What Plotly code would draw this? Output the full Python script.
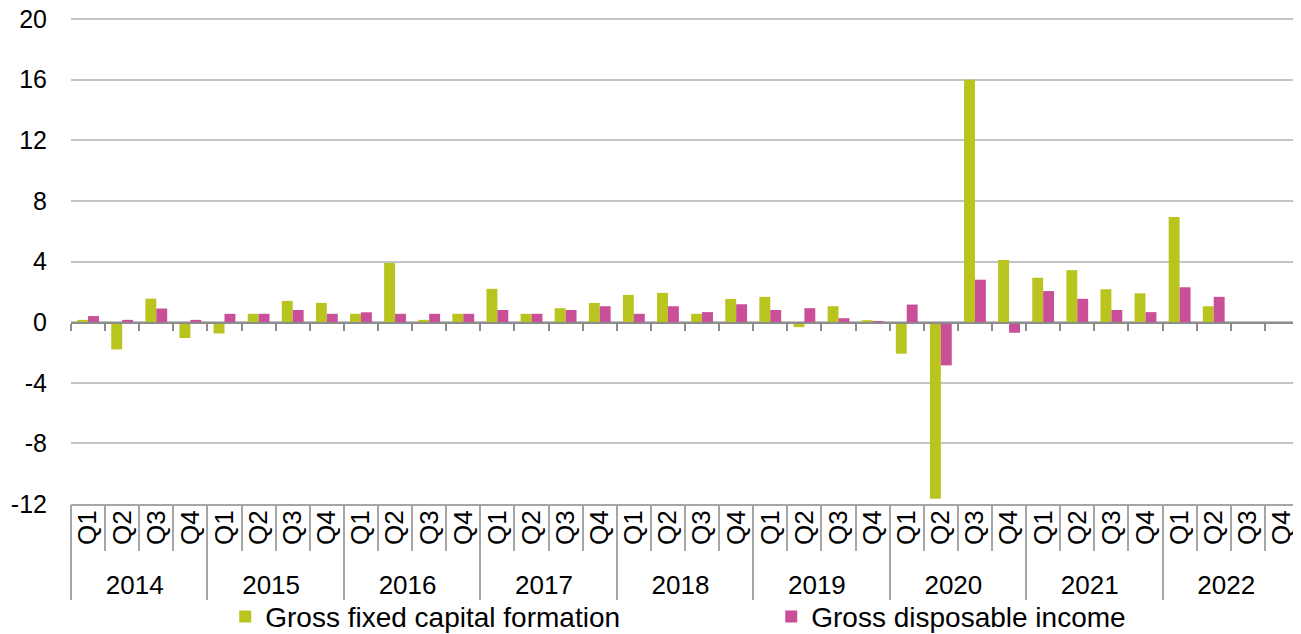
import plotly.graph_objects as go

years = ["2014", "2015", "2016", "2017", "2018", "2019", "2020", "2021", "2022"]
quarters = ["Q1", "Q2", "Q3", "Q4"]

gfcf = [0.15, -1.8, 1.55, -1.05,
        -0.75, 0.55, 1.4, 1.27,
        0.55, 3.9, 0.15, 0.55,
        2.2, 0.55, 0.92, 1.27,
        1.8, 1.93, 0.55, 1.53,
        1.67, -0.33, 1.05, 0.13,
        -2.08, -11.65, 16.0, 4.1,
        2.93, 3.43, 2.17, 1.9,
        6.93, 1.05, None, None]
gdi = [0.4, 0.15, 0.9, 0.15,
       0.55, 0.55, 0.8, 0.55,
       0.65, 0.55, 0.55, 0.55,
       0.8, 0.55, 0.8, 1.05,
       0.55, 1.05, 0.66, 1.18,
       0.8, 0.92, 0.26, 0.05,
       1.16, -2.85, 2.8, -0.7,
       2.05, 1.54, 0.8, 0.66,
       2.3, 1.67, None, None]

y_ticks = [-12, -8, -4, 0, 4, 8, 12, 16, 20]
y_min, y_max = -12, 20.2   # small headroom so the top gridline is kept

x_year = [y for y in years for _ in quarters]
x_q = [q for _ in years for q in quarters]
n = len(x_q)
idx = list(range(n))
zero_frac = (0 - y_min) / (y_max - y_min)

GREEN = "#B9C41F"
PINK = "#C94F98"
FONT = "Liberation Sans, Arial, sans-serif"

fig = go.Figure()
fig.add_trace(go.Bar(x=[x_year, x_q], y=gfcf, name="Gross fixed capital formation",
                     marker=dict(color=GREEN, line=dict(width=0))))
fig.add_trace(go.Bar(x=[x_year, x_q], y=gdi, name="Gross disposable income",
                     marker=dict(color=PINK, line=dict(width=0))))
# invisible helper traces so the overlay tick axes are drawn
fig.add_trace(go.Scatter(x=idx, y=gdi, xaxis="x2", yaxis="y2", mode="markers",
                         marker=dict(opacity=0, size=1), showlegend=False,
                         hoverinfo="skip"))
fig.add_trace(go.Scatter(x=idx, y=gdi, xaxis="x3", yaxis="y", mode="markers",
                         marker=dict(opacity=0, size=1), showlegend=False,
                         hoverinfo="skip"))

xr = [-0.5, n - 0.5]
fig.update_layout(
    width=1293, height=626,
    margin=dict(l=63, r=2, t=8, b=130, autoexpand=False),
    paper_bgcolor="white", plot_bgcolor="rgba(0,0,0,0)",
    font=dict(family=FONT, color="black"),
    barmode="group", bargap=0.36, bargroupgap=0,
    xaxis=dict(type="multicategory", range=xr, tickangle=-90,
               tickfont=dict(size=26, family=FONT), ticks="",
               showline=False, showgrid=False, zeroline=False,
               showdividers=True, dividercolor="#A6A6A6", dividerwidth=1.5),
    xaxis2=dict(overlaying="x", anchor="y2", side="bottom",
                type="linear", range=xr, tick0=-0.5, dtick=1,
                ticks="outside", ticklen=7, tickwidth=1.5, tickcolor="#8C8C8C",
                showticklabels=False, showgrid=False, zeroline=False,
                showline=True, linecolor="#8C8C8C", linewidth=2),
    yaxis2=dict(domain=[zero_frac, 1], anchor="x2", range=[0, y_max],
                visible=False, showgrid=False, zeroline=False),
    xaxis3=dict(overlaying="x", anchor="y", side="bottom",
                type="linear", range=xr, tick0=-0.5, dtick=1,
                ticks="outside", ticklen=45, tickwidth=1.5, tickcolor="#A6A6A6",
                showticklabels=False, showgrid=False, zeroline=False,
                showline=True, linecolor="#A6A6A6", linewidth=1.5),
    yaxis=dict(range=[y_min, y_max], tickvals=y_ticks,
               ticktext=[str(v) for v in y_ticks],
               tickfont=dict(size=25, family=FONT), ticks="",
               ticklabelstandoff=23, ticklabeloverflow="allow",
               showgrid=True, gridcolor="#C4C4C4", gridwidth=1.5,
               zeroline=False, showline=False),
    legend=dict(orientation="h", x=0.1256, xanchor="left", y=-0.231, yanchor="middle",
                font=dict(size=28, family=FONT), entrywidth=501, entrywidthmode="pixels",
                bgcolor="rgba(0,0,0,0)"),
)

fig.write_html("out.html")
